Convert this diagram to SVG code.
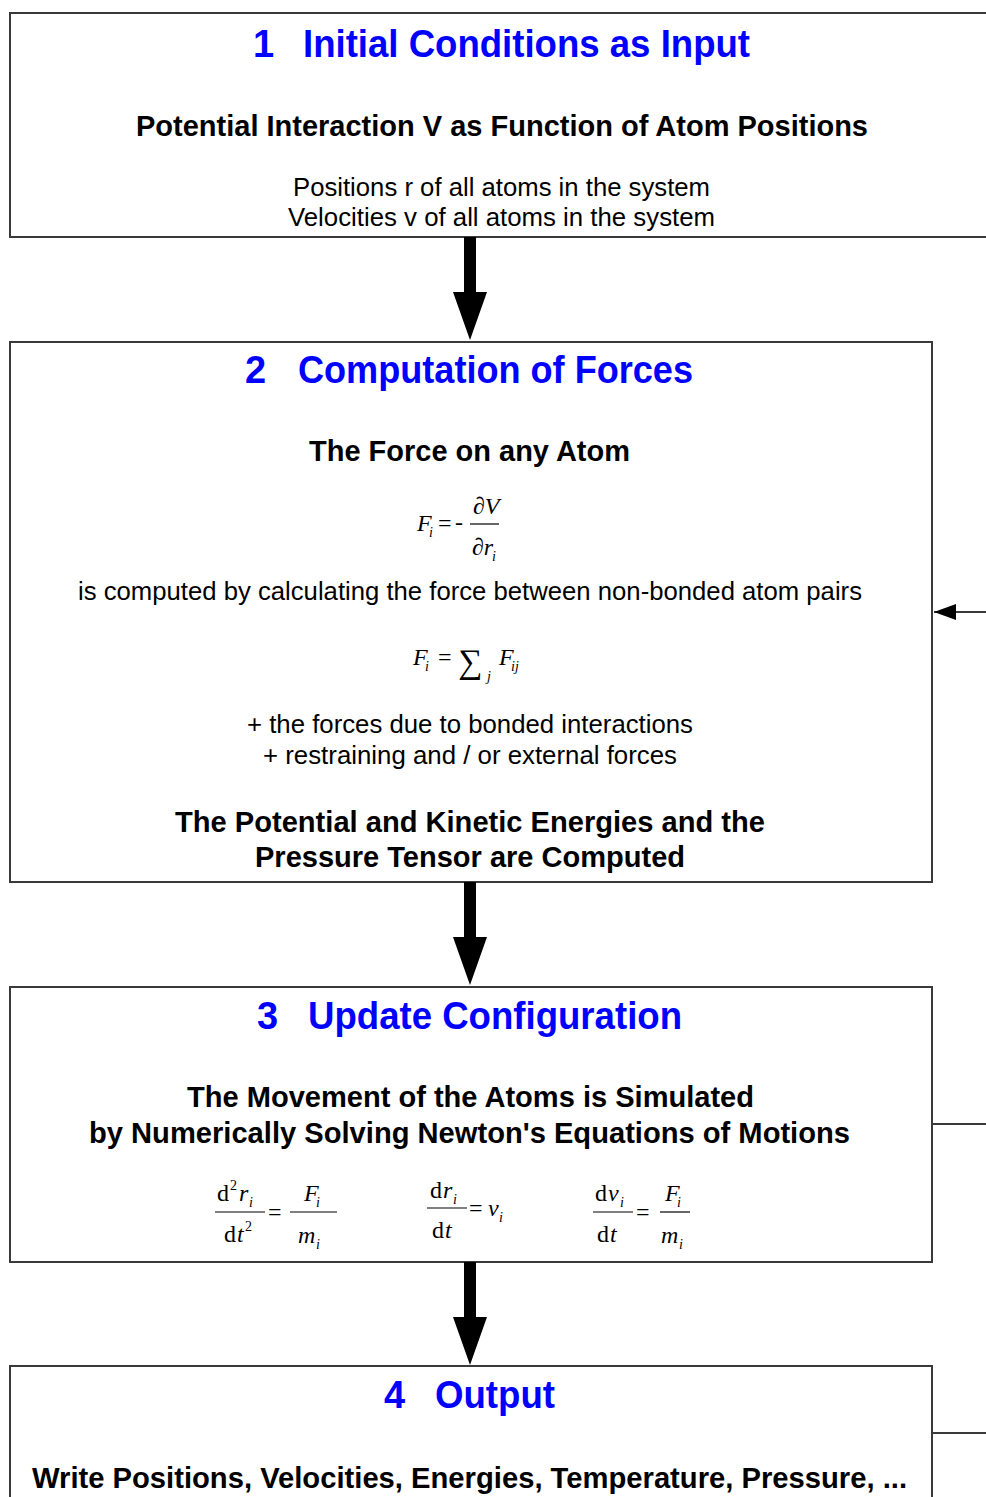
<svg xmlns="http://www.w3.org/2000/svg" width="986" height="1497" viewBox="0 0 986 1497">
  <style>
    .frame { fill: none; stroke: #3a3a3a; stroke-width: 2; }
    .title { font-family: "Liberation Sans", Arial, sans-serif; font-weight: bold; font-size: 38px; fill: #0000ff; }
    .head { font-family: "Liberation Sans", Arial, sans-serif; font-weight: bold; font-size: 29px; fill: #000; }
    .body { font-family: "Liberation Sans", Arial, sans-serif; font-size: 25px; fill: #000; }
    .math { font-family: "Liberation Serif", "Times New Roman", serif; font-size: 24px; fill: #000; }
    .it { font-style: italic; }
    .sub { font-size: 14px; }
    .bar { stroke: #000; stroke-width: 1.2; }
    .link { stroke: #3a3a3a; stroke-width: 2; fill: none; }
  </style>
  <defs>
    <!-- thick downward flow arrow, origin at top centre of the shaft -->
    <path id="flowArrow" d="M-6,0 H6 V55 H17 L0,103 L-17,55 H-6 Z" fill="#000"/>
    <marker id="smallHead" viewBox="0 0 22 16" refX="22" refY="8" markerWidth="22" markerHeight="16" markerUnits="userSpaceOnUse" orient="auto">
      <path d="M0,0 L22,8 L0,16 Z" fill="#000"/>
    </marker>
  </defs>

  <!-- Step 1 -->
  <g id="node-initial">
    <path class="frame" d="M986,13 H10 V237 H986"/>
    <text class="title" y="57"><tspan x="253">1</tspan><tspan x="303" textLength="447" lengthAdjust="spacingAndGlyphs">Initial Conditions as Input</tspan></text>
    <text class="head" x="136" y="136" textLength="732" lengthAdjust="spacingAndGlyphs">Potential Interaction V as Function of Atom Positions</text>
    <text class="body" x="293" y="196" textLength="417" lengthAdjust="spacingAndGlyphs">Positions r of all atoms in the system</text>
    <text class="body" x="288" y="226" textLength="427" lengthAdjust="spacingAndGlyphs">Velocities v of all atoms in the system</text>
  </g>

  <!-- Step 2 -->
  <g id="node-forces">
    <rect class="frame" x="10" y="342" width="922" height="540"/>
    <text class="title" y="383"><tspan x="245">2</tspan><tspan x="298" textLength="395" lengthAdjust="spacingAndGlyphs">Computation of Forces</tspan></text>
    <text class="head" x="309" y="461" textLength="321" lengthAdjust="spacingAndGlyphs">The Force on any Atom</text>
    <!-- F_i = - dV/dr_i -->
    <g class="math">
      <text class="it" x="417" y="531">F</text>
      <text class="it sub" x="429" y="537">i</text>
      <text x="438" y="531">=</text>
      <text x="455" y="530">-</text>
      <line class="bar" x1="470" y1="524" x2="499" y2="524"/>
      <text class="it" x="473" y="514">∂V</text>
      <text class="it" x="472" y="555">∂r</text>
      <text class="it sub" x="492" y="561">i</text>
    </g>
    <text class="body" x="78" y="600" textLength="784" lengthAdjust="spacingAndGlyphs">is computed by calculating the force between non-bonded atom pairs</text>
    <!-- F_i = sum_j F_ij -->
    <g class="math">
      <text class="it" x="413" y="665">F</text>
      <text class="it sub" x="425" y="671">i</text>
      <text x="438" y="665">=</text>
      <text x="458" y="673" style="font-size:34px">∑</text>
      <text class="it sub" x="487" y="681">j</text>
      <text class="it" x="499" y="665">F</text>
      <text class="it sub" x="511" y="671">ij</text>
    </g>
    <text class="body" x="247" y="733" textLength="446" lengthAdjust="spacingAndGlyphs">+ the forces due to bonded interactions</text>
    <text class="body" x="263" y="764" textLength="414" lengthAdjust="spacingAndGlyphs">+ restraining and / or external forces</text>
    <text class="head" x="175" y="832" textLength="590" lengthAdjust="spacingAndGlyphs">The Potential and Kinetic Energies and the</text>
    <text class="head" x="255" y="867" textLength="430" lengthAdjust="spacingAndGlyphs">Pressure Tensor are Computed</text>
  </g>

  <!-- Step 3 -->
  <g id="node-update">
    <rect class="frame" x="10" y="987" width="922" height="275"/>
    <text class="title" y="1029"><tspan x="257">3</tspan><tspan x="308" textLength="374" lengthAdjust="spacingAndGlyphs">Update Configuration</tspan></text>
    <text class="head" x="187" y="1107" textLength="567" lengthAdjust="spacingAndGlyphs">The Movement of the Atoms is Simulated</text>
    <text class="head" x="89" y="1143" textLength="761" lengthAdjust="spacingAndGlyphs">by Numerically Solving Newton's Equations of Motions</text>
    <!-- d2r_i/dt2 = F_i/m_i -->
    <g class="math">
      <text x="217" y="1201">d</text>
      <text class="sub" x="230" y="1190">2</text>
      <text class="it" x="239" y="1201">r</text>
      <text class="it sub" x="249" y="1207">i</text>
      <line class="bar" x1="215" y1="1212" x2="265" y2="1212"/>
      <text x="224" y="1242">d</text>
      <text class="it" x="237" y="1242">t</text>
      <text class="sub" x="245" y="1231">2</text>
      <text x="268" y="1220">=</text>
      <line class="bar" x1="290" y1="1212" x2="337" y2="1212"/>
      <text class="it" x="304" y="1201">F</text>
      <text class="it sub" x="316" y="1207">i</text>
      <text class="it" x="298" y="1243">m</text>
      <text class="it sub" x="316" y="1249">i</text>
    </g>
    <!-- dr_i/dt = v_i -->
    <g class="math">
      <text x="430" y="1198">d</text>
      <text class="it" x="443" y="1198">r</text>
      <text class="it sub" x="453" y="1204">i</text>
      <line class="bar" x1="427" y1="1208" x2="467" y2="1208"/>
      <text x="432" y="1238">d</text>
      <text class="it" x="445" y="1238">t</text>
      <text x="469" y="1216">=</text>
      <text class="it" x="488" y="1216">v</text>
      <text class="it sub" x="499" y="1222">i</text>
    </g>
    <!-- dv_i/dt = F_i/m_i -->
    <g class="math">
      <text x="595" y="1201">d</text>
      <text class="it" x="608" y="1201">v</text>
      <text class="it sub" x="620" y="1207">i</text>
      <line class="bar" x1="593" y1="1212" x2="633" y2="1212"/>
      <text x="597" y="1242">d</text>
      <text class="it" x="610" y="1242">t</text>
      <text x="636" y="1220">=</text>
      <line class="bar" x1="660" y1="1212" x2="690" y2="1212"/>
      <text class="it" x="665" y="1201">F</text>
      <text class="it sub" x="677" y="1207">i</text>
      <text class="it" x="661" y="1243">m</text>
      <text class="it sub" x="679" y="1249">i</text>
    </g>
  </g>

  <!-- Step 4 -->
  <g id="node-output">
    <path class="frame" d="M10,1497 V1366 H932 V1497"/>
    <text class="title" y="1408"><tspan x="384">4</tspan><tspan x="435" textLength="120" lengthAdjust="spacingAndGlyphs">Output</tspan></text>
    <text class="head" x="32" y="1488" textLength="875" lengthAdjust="spacingAndGlyphs">Write Positions, Velocities, Energies, Temperature, Pressure, ...</text>
  </g>

  <!-- Connectors -->
  <g id="connectors">
    <use href="#flowArrow" x="470" y="237"/>
    <use href="#flowArrow" x="470" y="882"/>
    <use href="#flowArrow" x="470" y="1262"/>
    <!-- loop-back lines on the right side -->
    <line class="link" x1="986" y1="612" x2="934" y2="612" marker-end="url(#smallHead)"/>
    <line class="link" x1="932" y1="1124" x2="986" y2="1124"/>
    <line class="link" x1="932" y1="1433" x2="986" y2="1433"/>
  </g>
</svg>
